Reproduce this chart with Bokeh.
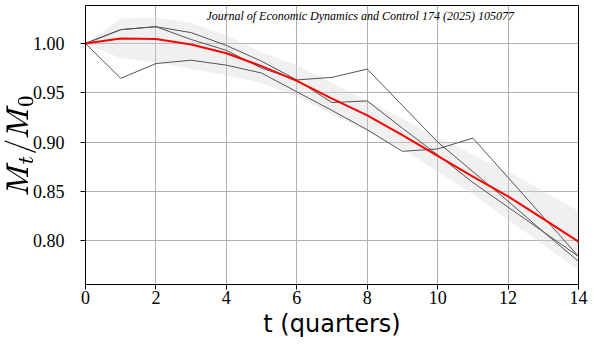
from bokeh.plotting import figure
from bokeh.models import Range1d, FixedTicker, PrintfTickFormatter, Label
from bokeh.embed import file_html
from bokeh.resources import INLINE

# ---- data ----
t = list(range(15))
mean_path = [1.000, 1.005, 1.0045, 0.999, 0.990, 0.977, 0.962, 0.944, 0.927,
             0.907, 0.886, 0.865, 0.845, 0.822, 0.799]
band_upper = [1.000, 1.025, 1.026, 1.021, 1.008, 0.991, 0.978, 0.960, 0.942,
              0.924, 0.905, 0.887, 0.870, 0.850, 0.830]
band_lower = [1.000, 0.985, 0.981, 0.974, 0.968, 0.960, 0.946, 0.928, 0.911,
              0.893, 0.870, 0.847, 0.821, 0.796, 0.770]
series_a = [1.000, 1.014, 1.017, 1.011, 0.998, 0.982, 0.963, 0.940, 0.9417,
            0.914, 0.887, 0.859, 0.834, 0.809, 0.784]
series_b = [1.000, 0.9646, 0.9796, 0.983, 0.978, 0.970, 0.951, 0.932, 0.9125,
            0.8906, 0.893, 0.904, 0.864, 0.824, 0.784]
series_c = [1.000, 1.014, 1.017, 1.004, 0.993, 0.975, 0.963, 0.9656, 0.974,
            0.937, 0.900, 0.870, 0.840, 0.809, 0.779]
x_ticks = [0, 2, 4, 6, 8, 10, 12, 14]
y_ticks = [0.80, 0.85, 0.90, 0.95, 1.00]
header_text = "Journal of Economic Dynamics and Control 174 (2025) 105077"

p = figure(width=602, height=344, output_backend="svg", toolbar_location=None,
           x_range=Range1d(0, 14), y_range=Range1d(0.7555, 1.0385),
           min_border_left=85, min_border_right=24, min_border_top=5,
           min_border_bottom=60)
p.background_fill_color = "white"
p.border_fill_color = "white"
p.outline_line_color = "black"
p.outline_line_width = 1

# band
p.varea(x=t, y1=band_lower, y2=band_upper, fill_color="#d3d3d3", fill_alpha=0.35)

# individual paths
for s in (series_a, series_b, series_c):
    p.line(t, s, line_color="#555555", line_width=1)

# mean path
p.line(t, mean_path, line_color="#ff0000", line_width=2)

# axes
p.xaxis.ticker = FixedTicker(ticks=x_ticks)
p.yaxis.ticker = FixedTicker(ticks=y_ticks)
p.yaxis.formatter = PrintfTickFormatter(format="%.2f")
for ax in (p.xaxis, p.yaxis):
    ax.axis_line_color = "black"
    ax.axis_line_width = 1
    ax.major_tick_line_color = "black"
    ax.major_tick_in = 0
    ax.major_tick_out = 5
    ax.minor_tick_line_color = None
    ax.major_label_text_font = "Liberation Serif"
    ax.major_label_text_font_size = "18px"
    ax.major_label_text_color = "black"

p.xaxis.major_label_standoff = 1
p.yaxis.major_label_standoff = 16

p.xaxis.axis_label = "t (quarters)"
p.xaxis.axis_label_text_font = "DejaVu Sans"
p.xaxis.axis_label_text_font_size = "24px"
p.xaxis.axis_label_text_font_style = "normal"
p.xaxis.axis_label_text_color = "black"
p.xaxis.axis_label_standoff = 3

p.yaxis.axis_label = r"$$M_t/M_0$$"
p.yaxis.axis_label_text_font_size = "26px"
p.yaxis.axis_label_text_color = "black"
p.yaxis.axis_label_standoff = -6

p.xgrid.grid_line_color = "#b0b0b0"
p.ygrid.grid_line_color = "#b0b0b0"
p.xgrid.grid_line_width = 1
p.ygrid.grid_line_width = 1

# running header, kept fully visible at the top of the frame
p.add_layout(Label(x=7.8, y=1.0274, text=header_text, text_align="center",
                   text_baseline="alphabetic", text_font="Liberation Serif",
                   text_font_style="italic", text_font_size="12px",
                   text_color="black"))

open("out.html", "w").write(file_html(p, INLINE))
